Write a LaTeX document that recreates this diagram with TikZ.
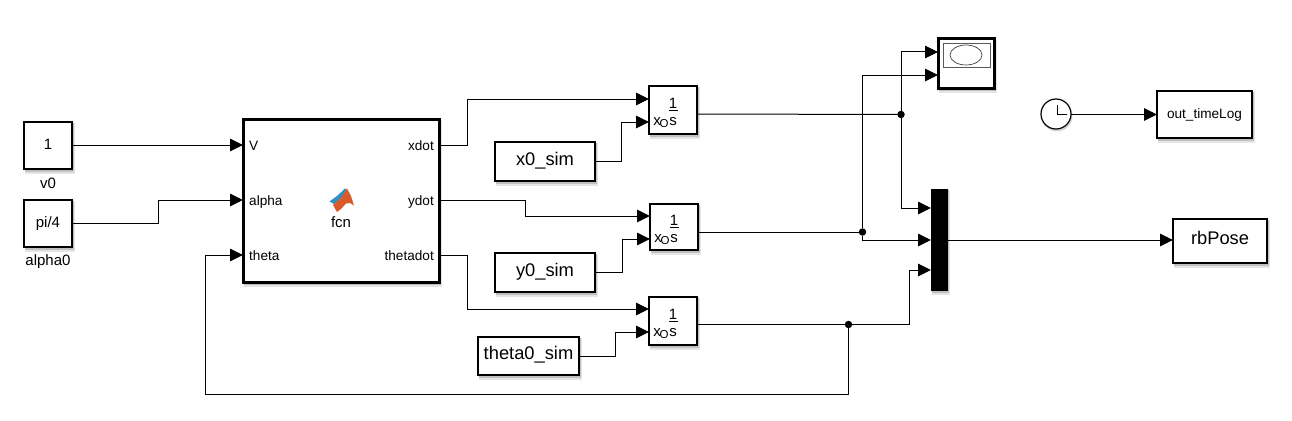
\documentclass[tikz,border=0pt]{standalone}
\usepackage{fontspec}
\setmainfont{Liberation Sans}
\usetikzlibrary{arrows.meta}
\definecolor{mlblue}{HTML}{2F8FC4}
\definecolor{mlorange}{HTML}{D9592A}
\tikzset{
  block/.style={draw=black,fill=white,line width=1.3pt,inner sep=0pt,outer sep=0pt},
  heavy/.style={draw=black,fill=white,line width=3pt,inner sep=0pt,outer sep=0pt},
  muxbar/.style={draw=black,fill=black,line width=0.6pt,inner sep=0pt,outer sep=0pt},
  conn/.style={line width=1pt,draw=black,-{Triangle[length=13pt,width=12.5pt]}},
  wire/.style={line width=1pt,draw=black},
  dotnode/.style={circle,fill=black,inner sep=0pt,minimum size=7.5pt,outer sep=0pt},
  txtsm/.style={inner sep=0pt,font=\fontsize{13.6}{15}\selectfont,text height=0.72em,text depth=0pt},
  txtmd/.style={inner sep=0pt,font=\fontsize{15}{17}\selectfont,text height=0.72em,text depth=0pt},
  txtlg/.style={inner sep=0pt,font=\fontsize{18.3}{20}\selectfont,text height=0.72em,text depth=0pt},
  labsm/.style={inner sep=0pt,font=\fontsize{13.6}{15}\selectfont},
  labmd/.style={inner sep=0pt,font=\fontsize{15}{17}\selectfont},
  shadelo/.style={fill=black,opacity=0.10},
  shadehi/.style={fill=black,opacity=0.16},
}
% box from corners: name, x1, y1, x2, y2, style, text (with a soft shadow below and to the right)
\newcommand{\boxat}[7]{%
  \fill[shadelo] (#2+1,#3+1) rectangle (#4+3,#5+4.5);
  \fill[shadehi] (#2+1,#3+1) rectangle (#4+1.5,#5+2.5);
  \node[#6,minimum width={(#4-#2)*1pt},minimum height={(#5-#3)*1pt}] (#1) at ({(#2+#4)/2},{(#3+#5)/2}) {#7};}
% integrator symbol inside a block whose corner is at x, y
\newcommand{\intsym}[3]{%
  \node[labmd,anchor=base] (#1one) at (#2+24,#3+22) {1};
  \node[labmd,anchor=base] (#1s) at (#2+24,#3+39) {s};
  \node[labmd,anchor=base] (#1x) at (#2+8,#3+39) {x};
  \node[inner sep=0pt,anchor=base,font=\fontsize{11.5}{13}\selectfont] (#1o) at (#2+15,#3+41.5) {O};
  \draw[line width=0.9pt] (#2+20,#3+24) -- (#2+29,#3+24);
}
\begin{document}
\begin{tikzpicture}[x=1pt,y=-1pt]
\useasboundingbox (0,0) rectangle (1292,420);
\fill[white] (0,0) rectangle (1292,420);

% source blocks
\boxat{vzero}{24}{122}{72}{169}{block,txtmd}{1}
\boxat{azero}{24}{200}{72}{247}{block,txtmd}{pi/4}
\node[labmd,anchor=base] (vzerolab) at (48,188) {v0};
\node[labmd,anchor=base] (azerolab) at (48,265) {alpha0};

% function block
\boxat{fcn}{243}{119}{439}{282}{heavy}{}
\node[labsm,anchor=base west] (inV) at (249,150) {V};
\node[labsm,anchor=base west] (inA) at (249,205) {alpha};
\node[labsm,anchor=base west] (inT) at (249,260) {theta};
\node[labsm,anchor=base east] (outX) at (434,150) {xdot};
\node[labsm,anchor=base east] (outY) at (434,205) {ydot};
\node[labsm,anchor=base east] (outT) at (434,260) {thetadot};
\node[labmd,anchor=base] (fcnlab) at (341,227) {fcn};
\fill[mlblue] (329.5,201.5) -- (337,196) -- (345,188.5) -- (347,190) -- (341,198) -- (335,204.5) -- cycle;
\fill[mlorange] (347,188.5) -- (351,196) -- (354,205.5) -- (350,203) -- (346,203.5) -- (341,209) -- (337,212) -- (333,205) -- (341,198) -- cycle;

% integrators
\boxat{intA}{649}{86}{697}{134}{block}{}
\boxat{intB}{650}{204}{698}{250}{block}{}
\boxat{intC}{649}{297}{697}{345}{block}{}
\intsym{symA}{649}{86}
\intsym{symB}{650}{203}
\intsym{symC}{649}{297}

% initial conditions
\boxat{xzero}{495}{142}{595}{181}{block,txtlg}{x0\_sim}
\boxat{yzero}{495}{253}{595}{292}{block,txtlg}{y0\_sim}
\boxat{tzero}{478}{337}{579}{375}{block,txtlg}{theta0\_sim}

% scope
\boxat{scope}{938}{39}{994}{88}{heavy}{}
\draw[line width=0.7pt,draw=black!65] (943,43.5) rectangle (990,67);
\draw[line width=0.7pt,draw=black!75] (966,55) ellipse [x radius=16,y radius=10];

% mux
\boxat{mux}{931}{189}{947}{290}{muxbar}{}

% clock and sinks
\fill[shadehi] (1057,116) circle [radius=15.5];
\node[circle,draw=black,fill=white,line width=1.2pt,minimum size=30pt,inner sep=0pt,outer sep=0pt] (clock) at (1056,114) {};
\draw[line width=1pt] (1057,105) -- (1057,114.5) -- (1067,114.5);
\boxat{tlog}{1157}{91}{1252}{138}{block,txtsm}{out\_timeLog}
\boxat{rbpose}{1173}{219}{1267}{263}{block,txtlg}{rbPose}

% port points
\coordinate (pV) at (243,145);
\coordinate (pA) at (243,200);
\coordinate (pT) at (243,255);
\coordinate (oX) at (439,145);
\coordinate (oY) at (439,200);
\coordinate (oT) at (439,255);
\coordinate (iAa) at (649,99);
\coordinate (iAb) at (649,122);
\coordinate (iBa) at (650,216);
\coordinate (iBb) at (650,239);
\coordinate (iCa) at (649,309);
\coordinate (iCb) at (649,332);
\coordinate (oA) at (697,114);
\coordinate (oB) at (698,232);
\coordinate (oC) at (697,324.5);
\coordinate (sA) at (938,52);
\coordinate (sB) at (938,75);
\coordinate (mA) at (931,208);
\coordinate (mB) at (931,240);
\coordinate (mC) at (931,270);

% junction dots
\node[dotnode] (jA) at (901,114.5) {};
\node[dotnode] (jB) at (862.5,232) {};
\node[dotnode] (jC) at (848.5,324.5) {};

% connectors
\draw[conn] (vzero.east |- pV) -- (pV);
\draw[conn] (azero.east) -- (158,223.5) -- (158,200) -- (pA);
\draw[conn] (oX) -- (467.5,145) -- (467.5,99) -- (iAa);
\draw[conn] (oY) -- (525.5,200) -- (525.5,216) -- (iBa);
\draw[conn] (oT) -- (467.5,255) -- (467.5,309) -- (iCa);
\draw[conn] (xzero.east) -- (621,161.5) -- (621,122) -- (iAb);
\draw[conn] (yzero.east) -- (622,272.5) -- (622,239) -- (iBb);
\draw[conn] (tzero.east) -- (615.5,356) -- (615.5,332) -- (iCb);
\draw[wire] (oA) -- (jA);
\draw[wire] (oB) -- (jB);
\draw[wire] (oC) -- (jC);
\draw[conn] (jA) -- (jA |- sA) -- (sA);
\draw[conn] (jA) -- (jA |- mA) -- (mA);
\draw[conn] (jB) -- (jB |- sB) -- (sB);
\draw[conn] (jB) -- (jB |- mB) -- (mB);
\draw[conn] (jC) -- (909.5,324.5) -- (909.5,270) -- (mC);
\draw[conn] (jC) -- (848.5,394.5) -- (205,394.5) -- (205,255) -- (pT);
\draw[conn] (mux.east |- mB) -- (rbpose.west |- mB);
\draw[conn] (clock.east |- 0,114.5) -- (tlog.west |- 0,114.5);
\end{tikzpicture}
\end{document}
